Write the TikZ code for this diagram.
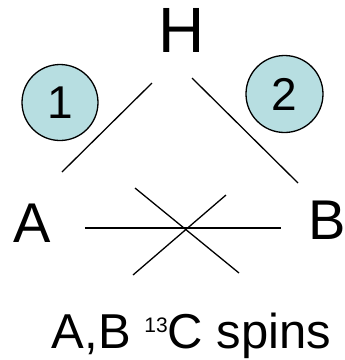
\documentclass[tikz,border=0pt]{standalone}
\usepackage{fontspec}
\setmainfont{Liberation Sans}
\usetikzlibrary{positioning}
\definecolor{spinfill}{RGB}{183,222,225}

\begin{document}
\begin{tikzpicture}[x=1pt, y=-1pt, line width=1.3pt]
                \useasboundingbox (0,0) rectangle (345,360);
                % Spins
                \node[font=\fontsize{64}{64}\selectfont, inner sep=0pt] (H) at (181.5,30) {H};
                \node[font=\fontsize{56}{56}\selectfont, inner sep=0pt] (A) at (32,223) {A};
                \node[font=\fontsize{56}{56}\selectfont, inner sep=0pt] (B) at (327,220) {B};
                
                % Numbered circles
                \node[circle, draw, fill=spinfill, minimum size=76pt, inner sep=0pt, font=\fontsize{46}{46}\selectfont] (one) at (60,102.5) {1};
                \node[circle, draw, fill=spinfill, minimum size=77pt, inner sep=0pt, font=\fontsize{46}{46}\selectfont] (two) at (284.5,94) {2};
                
                % Couplings
                \coordinate (hA) at (152,83);
                \coordinate (aH) at (62,172);
                \coordinate (hB) at (192,78);
                \coordinate (bH) at (298,183);
                \draw (aH) -- (hA);
                \draw (hB) -- (bH);
                
                % Crossed-out coupling
                \coordinate (aB) at (85,228);
                \coordinate (bA) at (281,228);
                \draw (aB) -- (bA);
                \draw (135,188) -- (239,273);
                \draw (226,195) -- (133,275);
                
                % Caption
                \node[font=\fontsize{49}{49}\selectfont, inner sep=0pt, anchor=base] (cap) at (191.5,348) {A,B \raisebox{16pt}{\fontsize{21}{21}\selectfont 13}C spins};
            \end{tikzpicture}
\end{document}
